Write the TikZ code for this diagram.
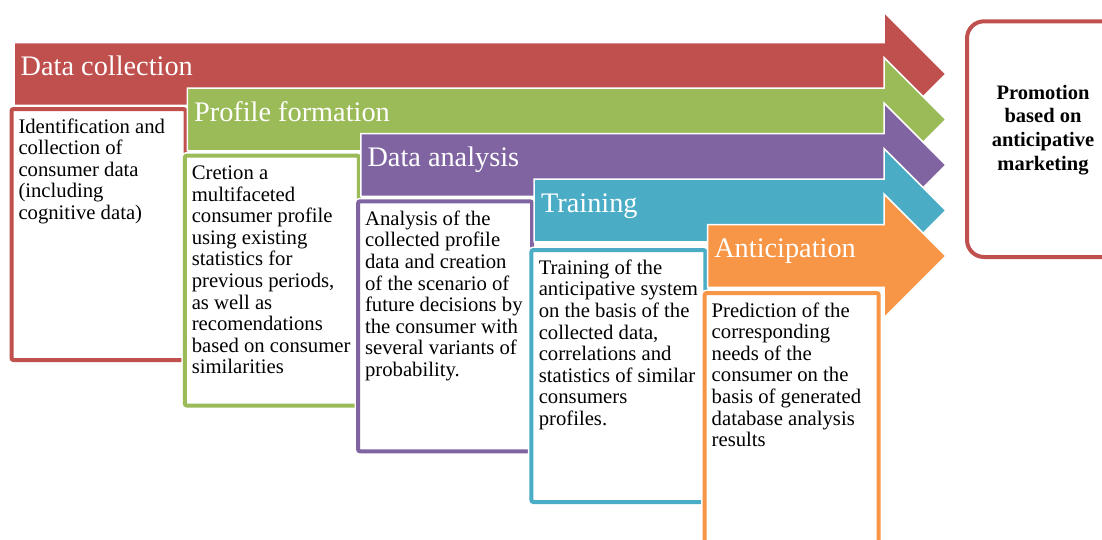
\documentclass[tikz,border=0pt]{standalone}
\usepackage{fontspec}
\setmainfont{Liberation Serif}
\definecolor{cred}{HTML}{C0504D}
\definecolor{cgreen}{HTML}{9BBB59}
\definecolor{cpurple}{HTML}{8064A2}
\definecolor{cteal}{HTML}{4BACC6}
\definecolor{corange}{HTML}{F79646}
\tikzset{
  arrowshape/.style={fill=#1, draw=white, line width=1.5pt, line join=miter},
  headtext/.style={anchor=base west, inner sep=0pt, text=white, font=\fontsize{28.3}{30}\selectfont},
  bodytext/.style={anchor=base west, inner sep=0pt, font=\fontsize{20.7}{21.6}\selectfont},
  boxwhite/.style={draw=white, line width=7pt, fill=white, rounded corners=2pt},
  boxline/.style={draw=#1, line width=4pt, rounded corners=2pt},
  promobox/.style={draw=cred, line width=4pt, fill=white, rounded corners=17pt},
  promotext/.style={anchor=base, inner sep=0pt, font=\bfseries\fontsize{20.5}{23.7}\selectfont},
}
\newcommand\StageArrow[3]{%
  \draw[arrowshape=#1] (#2,#3-31.3) -- (884,#3-31.3) -- (884,#3-62) -- (946,#3)
    -- (884,#3+62) -- (884,#3+31.3) -- (#2,#3+31.3) -- cycle;}
\newcommand\StageBox[4]{%
  \draw[boxwhite] (#2+2,#3+2) rectangle (#2+176,#4-2);
  \draw[boxline=#1] (#2+2,#3+2) rectangle (#2+176,#4-2);}
\begin{document}
\begin{tikzpicture}[x=1pt,y=-1pt]
\useasboundingbox (0,0) rectangle (1102,539);
\clip (0,0) rectangle (1102,539);
% stage 1
\StageArrow{cred}{14}{74}
\node[headtext] (h1) at (20.5,75.5) {Data collection};
\StageBox{cred}{9.5}{107}{362}
\node[bodytext] (t1) at (18.3,133) {\parbox[t]{170pt}{\raggedright
Identification and\\collection of\\consumer data\\(including\\cognitive data)}};
% stage 2
\StageArrow{cgreen}{187.4}{119.5}
\node[headtext] (h2) at (193.9,121) {Profile formation};
\StageBox{cgreen}{182.8}{153.5}{407.5}
\node[bodytext] (t2) at (191.6,179.5) {\parbox[t]{170pt}{\raggedright
Cretion a\\multifaceted\\consumer profile\\using existing\\statistics for\\previous periods,\\as well as\\recomendations\\based on consumer\\similarities}};
% stage 3
\StageArrow{cpurple}{360.8}{165}
\node[headtext] (h3) at (367.3,166.5) {Data analysis};
\StageBox{cpurple}{356.1}{199.3}{453.3}
\node[bodytext] (t3) at (364.9,225.3) {\parbox[t]{170pt}{\raggedright
Analysis of the\\collected profile\\data and creation\\of the scenario of\\future decisions by\\the consumer with\\several variants of\\probability.}};
% stage 4
\StageArrow{cteal}{534.2}{210.5}
\node[headtext] (h4) at (540.9,212) {Training};
\StageBox{cteal}{529.4}{248}{504}
\node[bodytext] (t4) at (538.6,274.3) {\parbox[t]{170pt}{\raggedright
Training of the\\anticipative system\\on the basis of the\\collected data,\\correlations and\\statistics of similar\\consumers\\profiles.}};
% stage 5
\StageArrow{corange}{707.6}{256}
\node[headtext] (h5) at (714.1,257.5) {Anticipation};
\StageBox{corange}{702.7}{291}{550}
\node[bodytext] (t5) at (711.5,317) {\parbox[t]{170pt}{\raggedright
Prediction of the\\corresponding\\needs of the\\consumer on the\\basis of generated\\database analysis\\results}};
% result box
\draw[promobox] (967,21.3) rectangle (1120,257);
\node[promotext] (p) at (1043,99) {\parbox[t]{150pt}{\centering
Promotion\\based on\\anticipative\\marketing}};
\end{tikzpicture}
\end{document}
